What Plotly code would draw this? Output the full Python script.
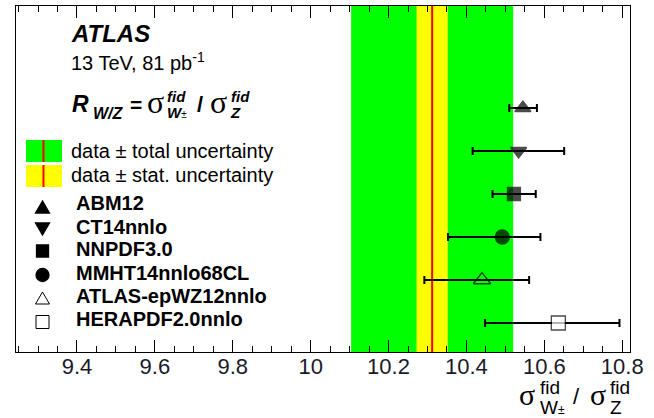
import plotly.graph_objects as go

# ---------------- data ----------------
models = ["ABM12", "CT14nnlo", "NNPDF3.0", "MMHT14nnlo68CL", "ATLAS-epWZ12nnlo", "HERAPDF2.0nnlo"]
pred_values = [10.545, 10.534, 10.522, 10.492, 10.440, 10.636]
pred_err_plus = [0.036, 0.117, 0.056, 0.098, 0.121, 0.157]
pred_err_minus = [0.035, 0.118, 0.055, 0.139, 0.148, 0.188]
positions = [6, 5, 4, 3, 2, 1]
symbols = ["triangle-up", "triangle-down", "square", "circle", "triangle-up-open", "square"]
fill_colors = ["black", "black", "black", "black", "black", "white"]

data_value = 10.312
data_stat = 0.04
data_total = 0.208

FONT = "Liberation Sans, Arial, Helvetica, sans-serif"
SIGMA_FONT = "Liberation Serif, DejaVu Serif, serif"

# ---------------- geometry helpers (pixel -> paper) ----------------
L, R, T, B = 16, 630, 6, 352
W_PX, H_PX = R - L, B - T


def px(x):
    return (x - L) / W_PX


def py(y):
    return (B - y) / H_PX


fig = go.Figure()

fig.add_trace(go.Scatter(
    x=pred_values, y=positions, mode="markers",
    marker=dict(symbol=symbols, size=[14, 14, 13, 14, 15, 14], color=fill_colors,
                line=dict(color="black", width=1.3)),
    error_x=dict(type="data", array=pred_err_plus, arrayminus=pred_err_minus,
                 color="black", thickness=2, width=4),
    showlegend=False, hoverinfo="skip",
))

shapes = [
    dict(type="rect", xref="x", yref="paper", x0=data_value - data_total, x1=data_value + data_total,
         y0=0, y1=1, fillcolor="#00ff00", line_width=0, layer="below"),
    dict(type="rect", xref="x", yref="paper", x0=data_value - data_stat, x1=data_value + data_stat,
         y0=0, y1=1, fillcolor="#ffff00", line_width=0, layer="below"),
    dict(type="line", xref="x", yref="paper", x0=data_value, x1=data_value, y0=0, y1=1,
         line=dict(color="#ff0000", width=2), layer="below"),
    # legend boxes
    dict(type="rect", xref="paper", yref="paper", x0=px(26), x1=px(62), y0=py(162), y1=py(140),
         fillcolor="#00ff00", line_width=0),
    dict(type="line", xref="paper", yref="paper", x0=px(43.5), x1=px(43.5), y0=py(162), y1=py(140),
         line=dict(color="#ff0000", width=2)),
    dict(type="rect", xref="paper", yref="paper", x0=px(26), x1=px(62), y0=py(187), y1=py(165),
         fillcolor="#ffff00", line_width=0),
    dict(type="line", xref="paper", yref="paper", x0=px(43.5), x1=px(43.5), y0=py(187), y1=py(165),
         line=dict(color="#ff0000", width=2)),
]


def pix_shape(cx, cy, path=None, kind=None, half=6, fill="black", lw=1.3):
    base = dict(xref="paper", yref="paper", xsizemode="pixel", ysizemode="pixel",
                xanchor=px(cx), yanchor=py(cy), fillcolor=fill,
                line=dict(color="black", width=lw))
    if path is not None:
        base.update(type="path", path=path)
    else:
        base.update(type=kind, x0=-half, x1=half, y0=-half, y1=half)
    return base


lx = 42.5
shapes += [
    pix_shape(lx, 207, path="M -7 -6 L 7 -6 L 0 6 Z"),
    pix_shape(lx, 229, path="M -7 6 L 7 6 L 0 -6 Z"),
    pix_shape(lx, 251, kind="rect", half=6),
    pix_shape(lx, 275, kind="circle", half=6.5),
    pix_shape(lx, 298, path="M -7 -6 L 7 -6 L 0 6 Z", fill="rgba(0,0,0,0)", lw=1),
    pix_shape(lx, 322, kind="rect", half=6.5, fill="white", lw=1),
]

annotations = []


def ann(x, y, text, size, family=FONT, xanchor="left", yanchor="middle"):
    annotations.append(dict(xref="paper", yref="paper", x=px(x), y=py(y), text=text,
                            showarrow=False, xanchor=xanchor, yanchor=yanchor, align="left",
                            font=dict(family=family, size=size, color="black")))


def sp(text, size):
    return "<span style='font-size:%dpx'>%s</span>" % (size, text)


ann(69, 33, "<b><i>ATLAS</i></b>", 24)
ann(69, 61, "13 TeV, 81 pb<sup>-1</sup>", 20)

# formula R_W/Z = sigma^fid_W± / sigma^fid_Z
ann(70, 104, "<b><i>R</i></b>", 23)
ann(91, 113.5, "<b><i>W/Z</i></b>", 16)
ann(128, 104, "<b>=</b>", 21)
ann(145, 102, "σ", 32, family=SIGMA_FONT)
ann(165, 104, sp("<b><i>fid</i></b>", 15) + "<br>" + sp("<b><i>W</i></b>", 15) + sp("±", 10), 12.5)
ann(195, 104, "<b>/</b>", 22)
ann(208, 102, "σ", 32, family=SIGMA_FONT)
ann(228, 104, sp("<b><i>fid</i></b>", 15) + "<br>" + sp("<b><i>Z</i></b>", 15), 12.5)

# legend texts
ann(69, 151, "data ± total uncertainty", 20)
ann(69, 175, "data ± stat. uncertainty", 20)
legend_y = [203.5, 227, 249, 273, 295.5, 319]
for name, yy in zip(models, legend_y):
    ann(74, yy, "<b>" + name + "</b>", 20)

# x axis title
ann(517, 394, "σ", 30, family=SIGMA_FONT)
ann(538, 397.5, sp("fid", 19) + "<br>" + sp("W", 19) + sp("±", 12), 15.5)
ann(571, 396, "/", 22)
ann(588, 394, "σ", 30, family=SIGMA_FONT)
ann(608, 397.5, sp("fid", 19) + "<br>" + sp("Z", 19), 15.5)

fig.update_layout(
    width=654, height=418,
    margin=dict(l=L, r=654 - R, t=T, b=418 - B),
    paper_bgcolor="white", plot_bgcolor="white",
    shapes=shapes, annotations=annotations,
    font=dict(family=FONT, color="black"),
    xaxis=dict(
        range=[9.2435, 10.82], tickmode="linear", tick0=9.4, dtick=0.2,
        ticks="inside", ticklen=12, tickwidth=1, tickcolor="black",
        minor=dict(dtick=0.05, ticks="inside", ticklen=6, tickwidth=1, tickcolor="black"),
        showline=True, linecolor="black", linewidth=1.2, mirror="allticks",
        showgrid=False, zeroline=False, automargin=False, ticklabelstandoff=-6,
        tickfont=dict(family=FONT, size=22, color="#1a1a2a"),
    ),
    yaxis=dict(
        range=[0.326, 8.372], showticklabels=False, ticks="",
        showline=True, linecolor="black", linewidth=1.2, mirror=True,
        showgrid=False, zeroline=False, automargin=False,
    ),
)

fig.write_html("out.html", config={"displayModeBar": False},
               post_script="document.body.style.margin='0';document.body.style.padding='0';")
